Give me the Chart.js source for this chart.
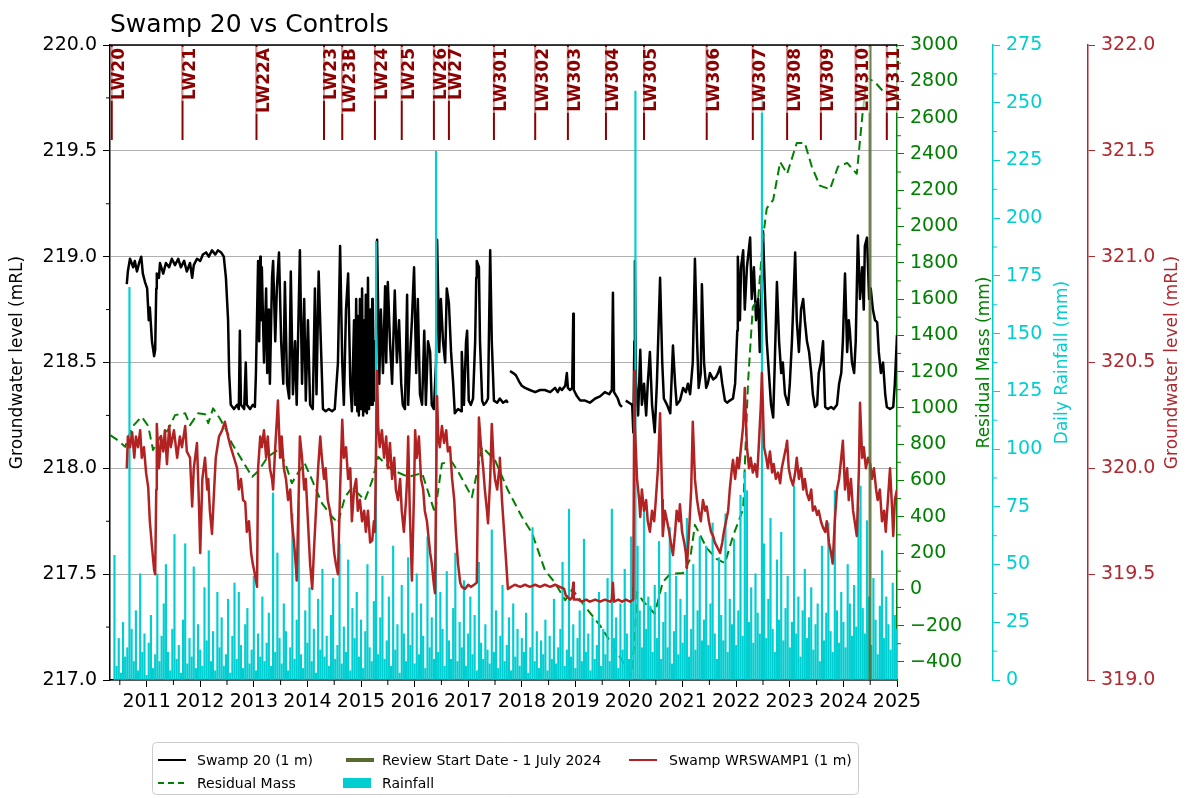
<!DOCTYPE html>
<html>
<head>
<meta charset="utf-8">
<script src="https://cdn.jsdelivr.net/npm/chart.js@4.4.1/dist/chart.umd.min.js"></script>
<style>
  html, body { margin: 0; padding: 0; background: #fff; }
</style>
</head>
<body>
<canvas id="chart" width="1189" height="798"></canvas>
<script>
// --- data (x values are decimal years) ---
const titleText = 'Swamp 20 vs Controls';

const xMin = 2010.317;
const xMax = 2025.0;
const yearTicks = [2011, 2012, 2013, 2014, 2015, 2016, 2017, 2018, 2019, 2020, 2021, 2022, 2023, 2024, 2025];
const leftTicks = [217.0, 217.5, 218.0, 218.5, 219.0, 219.5, 220.0];
const residualTicks = [-400, -200, 0, 200, 400, 600, 800, 1000, 1200, 1400, 1600, 1800, 2000, 2200, 2400, 2600, 2800, 3000];
const rainTicks = [0, 25, 50, 75, 100, 125, 150, 175, 200, 225, 250, 275];
const redTicks = [319.0, 319.5, 320.0, 320.5, 321.0, 321.5, 322.0];

// longwall markers
const lwNames = ['LW20', 'LW21', 'LW22A', 'LW23', 'LW23B', 'LW24', 'LW25', 'LW26', 'LW27', 'LW301',
  'LW302', 'LW303', 'LW304', 'LW305', 'LW306', 'LW307', 'LW308', 'LW309', 'LW310', 'LW311'];
const lwYears = [2010.35, 2011.67, 2013.05, 2014.31, 2014.65, 2015.26, 2015.76, 2016.36, 2016.64, 2017.48,
  2018.25, 2018.86, 2019.57, 2020.28, 2021.45, 2022.31, 2022.95, 2023.58, 2024.23, 2024.81];

const reviewYear = 2024.497; // 1 July 2024

// Swamp 20 (1 m) groundwater level, mRL (left axis)
const swamp20 = [
  [2010.63,218.87],[2010.65,218.93],[2010.69,218.99],[2010.75,218.95],[2010.78,218.98],[2010.82,218.93],[2010.86,218.97],[2010.90,219.00],[2010.93,218.92],[2010.97,218.88],
  [2011.01,218.85],[2011.04,218.70],[2011.06,218.76],[2011.10,218.60],[2011.14,218.53],[2011.16,218.56],[2011.18,218.85],[2011.19,218.92],[2011.23,218.90],[2011.25,218.97],
  [2011.31,218.92],[2011.36,218.97],[2011.42,218.95],[2011.47,218.99],[2011.53,218.96],[2011.59,218.99],[2011.64,218.95],[2011.70,218.98],[2011.75,218.93],[2011.81,218.97],
  [2011.85,218.90],[2011.88,218.96],[2011.94,218.99],[2012.00,218.98],[2012.05,219.01],[2012.11,219.02],[2012.16,219.00],[2012.22,219.03],[2012.28,219.01],[2012.33,219.03],
  [2012.39,219.02],[2012.44,219.00],[2012.48,218.90],[2012.52,218.70],[2012.54,218.45],[2012.57,218.30],[2012.63,218.28],[2012.69,218.30],[2012.72,218.28],[2012.74,218.65],
  [2012.76,218.30],[2012.82,218.28],[2012.85,218.50],[2012.87,218.30],[2012.93,218.28],[2012.98,218.30],[2013.02,218.29],
  [2013.04,218.45],[2013.08,218.98],[2013.10,218.60],[2013.12,219.00],[2013.13,218.70],[2013.15,218.95],[2013.19,218.50],[2013.23,218.85],[2013.25,218.45],[2013.28,218.75],
  [2013.30,218.40],[2013.34,218.90],[2013.36,218.98],[2013.40,218.60],[2013.43,218.85],[2013.47,219.02],[2013.51,218.60],[2013.55,218.40],[2013.58,218.88],[2013.62,218.40],
  [2013.66,218.33],[2013.69,218.93],[2013.73,218.35],[2013.77,218.60],[2013.80,218.30],[2013.86,219.03],[2013.90,218.40],[2013.94,218.80],[2013.97,218.32],[2014.01,218.70],
  [2014.05,218.30],[2014.10,218.28],[2014.14,218.85],[2014.17,218.35],[2014.21,218.93],[2014.25,218.60],[2014.29,218.28],[2014.34,218.27],[2014.40,218.28],[2014.46,218.27],
  [2014.51,218.28],[2014.57,218.50],[2014.61,219.05],[2014.65,218.50],[2014.68,218.30],[2014.72,218.75],[2014.76,218.92],[2014.80,218.40],[2014.83,218.27],[2014.87,218.70],
  [2014.89,218.30],[2014.91,218.80],[2014.93,218.27],[2014.94,218.72],[2014.96,218.25],[2014.98,218.80],[2015.00,218.28],[2015.02,218.85],[2015.04,218.25],[2015.06,218.70],
  [2015.07,218.27],[2015.09,218.82],[2015.11,218.26],[2015.13,218.90],[2015.15,218.28],[2015.17,218.75],[2015.19,218.30],[2015.21,218.80],[2015.22,218.30],[2015.24,218.60],
  [2015.26,218.32],[2015.30,219.08],[2015.34,218.40],[2015.37,218.75],[2015.41,218.45],[2015.45,218.86],[2015.47,218.50],[2015.50,218.88],[2015.54,218.60],[2015.58,218.40],
  [2015.63,218.84],[2015.67,218.50],[2015.71,218.70],[2015.75,218.40],[2015.78,218.30],[2015.82,218.28],[2015.86,218.82],[2015.88,218.30],[2015.91,218.50],[2015.95,218.70],
  [2015.99,218.95],[2016.03,218.45],[2016.06,218.80],[2016.10,218.35],[2016.14,218.30],[2016.18,218.65],[2016.21,218.30],[2016.25,218.60],[2016.29,218.55],[2016.32,218.30],
  [2016.36,218.28],[2016.40,218.50],[2016.42,219.08],[2016.46,218.55],[2016.49,218.80],[2016.53,218.60],[2016.57,218.50],[2016.60,218.85],[2016.64,218.78],[2016.68,218.55],
  [2016.72,218.40],[2016.75,218.26],[2016.81,218.28],[2016.87,218.27],[2016.88,218.55],[2016.92,218.30],[2016.96,218.60],[2016.98,218.65],[2017.01,218.32],[2017.05,218.30],
  [2017.09,218.33],[2017.13,218.60],[2017.15,218.90],[2017.16,218.98],[2017.20,218.95],[2017.22,218.60],[2017.26,218.32],[2017.29,218.30],[2017.33,218.31],[2017.37,218.33],
  [2017.41,219.03],[2017.44,218.60],[2017.48,218.32],[2017.54,218.31],[2017.59,218.33],[2017.65,218.31],[2017.71,218.32],[2017.74,218.31],[2017.76,null],
  [2017.78,218.46],[2017.84,218.45],[2017.89,218.44],[2017.95,218.41],[2018.00,218.39],[2018.06,218.38],[2018.15,218.37],[2018.25,218.36],[2018.34,218.37],[2018.43,218.37],
  [2018.53,218.36],[2018.62,218.38],[2018.67,218.36],[2018.71,218.38],[2018.75,218.37],[2018.81,218.39],[2018.84,218.45],[2018.86,218.38],[2018.90,218.37],[2018.94,218.38],
  [2018.96,218.73],[2018.97,218.37],[2019.03,218.34],[2019.09,218.32],[2019.18,218.32],[2019.27,218.31],[2019.37,218.33],[2019.46,218.34],[2019.55,218.36],[2019.63,218.35],
  [2019.68,218.37],[2019.70,218.83],[2019.72,218.36],[2019.79,218.33],[2019.83,218.30],[2019.87,218.29],[2019.89,null],
  [2019.94,218.32],[2020.00,218.31],[2020.06,218.30],[2020.08,218.17],[2020.10,218.60],[2020.11,218.98],[2020.13,218.40],[2020.17,218.25],[2020.21,218.56],[2020.24,218.30],
  [2020.28,218.40],[2020.32,218.25],[2020.35,218.40],[2020.39,218.55],[2020.43,218.30],[2020.48,218.17],[2020.52,218.40],[2020.58,218.90],[2020.62,218.50],[2020.65,218.33],
  [2020.71,218.30],[2020.77,218.26],[2020.82,218.58],[2020.86,218.40],[2020.89,218.30],[2020.95,218.32],[2021.01,218.38],[2021.06,218.36],[2021.10,218.40],[2021.14,218.35],
  [2021.19,218.50],[2021.23,218.99],[2021.27,218.60],[2021.30,218.38],[2021.34,218.45],[2021.36,218.87],[2021.40,218.50],[2021.44,218.38],[2021.47,218.40],[2021.51,218.45],
  [2021.57,218.42],[2021.62,218.43],[2021.66,218.45],[2021.70,218.48],[2021.74,218.40],[2021.79,218.32],[2021.83,218.31],[2021.88,218.32],[2021.94,218.33],[2021.98,218.40],
  [2022.02,218.65],[2022.03,219.00],[2022.07,218.70],[2022.09,218.95],[2022.13,219.03],[2022.16,218.75],[2022.20,218.95],[2022.26,219.09],[2022.29,218.80],[2022.33,218.95],
  [2022.37,218.70],[2022.41,218.80],[2022.44,218.55],[2022.48,218.90],[2022.50,219.12],[2022.54,218.80],[2022.57,218.60],[2022.61,218.45],[2022.65,218.30],[2022.69,218.24],
  [2022.72,218.50],[2022.76,218.88],[2022.80,218.60],[2022.84,218.45],[2022.87,218.50],[2022.91,218.35],[2022.97,218.30],[2023.00,218.40],[2023.04,218.60],[2023.10,219.02],
  [2023.13,218.70],[2023.17,218.55],[2023.21,218.75],[2023.25,218.80],[2023.28,218.70],[2023.32,218.60],[2023.36,218.55],[2023.40,218.45],[2023.43,218.35],[2023.47,218.29],
  [2023.51,218.30],[2023.54,218.45],[2023.58,218.50],[2023.62,218.60],[2023.66,218.29],[2023.71,218.28],[2023.77,218.29],[2023.82,218.28],[2023.88,218.30],[2023.92,218.40],
  [2023.96,218.45],[2023.99,218.60],[2024.03,218.92],[2024.07,218.55],[2024.10,218.70],[2024.12,218.65],[2024.16,218.50],[2024.20,218.45],[2024.23,218.60],[2024.27,219.10],
  [2024.31,218.80],[2024.35,218.95],[2024.38,218.75],[2024.40,219.05],[2024.44,219.09],[2024.48,218.80],[2024.51,218.85],[2024.55,218.75],[2024.59,218.70],[2024.63,218.69],
  [2024.66,218.55],[2024.70,218.45],[2024.74,218.50],[2024.78,218.35],[2024.81,218.29],[2024.87,218.28],[2024.93,218.29],[2024.96,218.40],[2025.00,218.63]
];

// Swamp WRSWAMP1 (1 m) groundwater level, mRL (outer right axis)
const wrswamp1 = [
  [2010.63,320.00],[2010.65,320.15],[2010.69,320.10],[2010.73,320.17],[2010.77,320.05],[2010.80,320.15],[2010.84,320.10],[2010.88,320.18],[2010.91,320.05],[2010.95,320.10],
  [2010.99,319.98],[2011.03,319.91],[2011.06,319.75],[2011.10,319.63],[2011.14,319.52],[2011.16,319.50],[2011.18,319.90],[2011.19,320.21],[2011.23,320.00],[2011.27,320.15],
  [2011.31,320.08],[2011.34,320.18],[2011.38,320.02],[2011.42,320.20],[2011.45,320.10],[2011.51,320.18],[2011.57,320.05],[2011.62,320.15],[2011.66,320.10],[2011.72,320.20],
  [2011.75,320.08],[2011.81,320.05],[2011.85,319.82],[2011.88,320.00],[2011.94,320.12],[2011.98,319.80],[2012.00,319.60],[2012.04,319.95],[2012.09,320.05],[2012.13,319.90],
  [2012.15,319.95],[2012.18,319.80],[2012.22,319.69],[2012.26,319.90],[2012.29,320.05],[2012.35,320.15],[2012.41,320.18],[2012.46,320.22],[2012.52,320.15],[2012.57,320.10],
  [2012.63,320.05],[2012.69,320.00],[2012.72,319.90],[2012.76,319.95],[2012.80,319.85],[2012.84,319.84],[2012.87,319.70],[2012.91,319.75],[2012.95,319.60],[2012.98,319.55],
  [2013.02,319.50],[2013.06,319.44],[2013.08,320.00],[2013.12,320.15],[2013.15,320.10],[2013.19,320.18],[2013.23,320.05],[2013.26,320.15],[2013.30,320.00],[2013.34,319.95],
  [2013.36,319.90],[2013.40,320.10],[2013.43,320.23],[2013.45,320.32],[2013.49,320.05],[2013.52,320.15],[2013.56,320.00],[2013.60,319.95],[2013.64,319.85],[2013.68,319.90],
  [2013.71,319.75],[2013.75,319.65],[2013.79,319.52],[2013.80,319.47],[2013.84,319.90],[2013.86,320.15],[2013.90,320.05],[2013.94,319.90],[2013.97,319.95],[2014.01,319.75],
  [2014.05,319.55],[2014.09,319.43],[2014.12,319.60],[2014.16,319.80],[2014.20,320.00],[2014.24,320.15],[2014.27,320.05],[2014.31,319.95],[2014.34,320.00],[2014.38,319.85],
  [2014.42,319.80],[2014.46,319.73],[2014.50,319.60],[2014.53,319.55],[2014.57,319.50],[2014.61,319.90],[2014.65,320.23],[2014.68,320.05],[2014.72,320.10],[2014.76,319.95],
  [2014.80,320.00],[2014.83,319.75],[2014.87,319.90],[2014.91,319.95],[2014.94,319.80],[2014.98,319.85],[2015.02,319.75],[2015.06,319.80],[2015.09,319.70],[2015.13,319.80],
  [2015.17,319.65],[2015.21,319.66],[2015.24,319.75],[2015.26,319.70],[2015.30,320.46],[2015.32,320.20],[2015.35,320.10],[2015.39,320.18],[2015.43,320.05],[2015.47,320.15],
  [2015.50,320.00],[2015.54,320.12],[2015.58,319.95],[2015.62,320.05],[2015.65,319.90],[2015.69,319.85],[2015.73,319.95],[2015.76,319.80],[2015.80,319.70],[2015.84,319.85],
  [2015.86,319.95],[2015.88,320.15],[2015.91,319.80],[2015.95,319.47],[2015.99,319.90],[2016.01,320.18],[2016.04,320.05],[2016.08,320.15],[2016.12,319.95],[2016.16,319.90],
  [2016.19,319.80],[2016.23,319.75],[2016.25,319.70],[2016.29,319.60],[2016.32,319.55],[2016.36,319.45],[2016.38,319.41],[2016.42,320.34],[2016.44,320.15],[2016.47,320.10],
  [2016.51,320.20],[2016.55,320.12],[2016.59,320.18],[2016.62,320.08],[2016.66,320.10],[2016.70,319.95],[2016.74,319.85],[2016.77,319.70],[2016.81,319.55],[2016.85,319.46],
  [2016.88,319.44],[2016.94,319.43],[2017.00,319.45],[2017.05,319.44],[2017.11,319.45],[2017.16,319.46],[2017.20,320.24],[2017.24,320.10],[2017.28,320.00],[2017.31,319.90],
  [2017.35,319.80],[2017.37,319.74],[2017.41,319.95],[2017.44,320.21],[2017.48,320.00],[2017.50,319.95],[2017.54,319.90],[2017.58,320.00],[2017.59,320.05],[2017.63,319.85],
  [2017.67,319.70],[2017.71,319.55],[2017.74,319.43],[2017.80,319.44],[2017.87,319.45],[2017.97,319.44],[2018.06,319.45],[2018.15,319.44],[2018.25,319.45],[2018.34,319.44],
  [2018.43,319.45],[2018.53,319.44],[2018.62,319.45],[2018.71,319.44],[2018.79,319.43],[2018.82,319.40],[2018.86,319.39],[2018.90,319.38],[2018.94,319.39],[2018.96,319.46],
  [2018.97,319.38],[2019.05,319.38],[2019.12,319.37],[2019.20,319.38],[2019.27,319.37],[2019.37,319.38],[2019.46,319.37],[2019.55,319.38],[2019.65,319.37],[2019.68,319.38],
  [2019.70,319.46],[2019.72,319.37],[2019.80,319.38],[2019.87,319.37],[2019.94,319.38],[2020.02,319.37],[2020.08,319.38],[2020.10,320.46],[2020.11,320.20],[2020.15,319.95],
  [2020.19,319.85],[2020.21,319.77],[2020.24,319.90],[2020.28,319.80],[2020.32,319.85],[2020.35,319.75],[2020.39,319.70],[2020.43,319.80],[2020.47,319.75],[2020.50,319.85],
  [2020.54,320.00],[2020.58,320.26],[2020.62,319.85],[2020.63,319.68],[2020.67,319.80],[2020.71,319.75],[2020.75,319.70],[2020.78,319.65],[2020.82,319.59],[2020.86,319.70],
  [2020.89,319.80],[2020.93,319.75],[2020.95,319.83],[2020.99,319.70],[2021.03,319.65],[2021.06,319.60],[2021.08,319.53],[2021.12,319.70],[2021.16,319.90],[2021.19,320.22],
  [2021.23,319.95],[2021.27,319.85],[2021.30,319.80],[2021.34,319.75],[2021.38,319.85],[2021.42,319.80],[2021.45,319.82],[2021.49,319.75],[2021.53,319.70],[2021.57,319.68],
  [2021.60,319.65],[2021.64,319.63],[2021.66,319.62],[2021.70,319.60],[2021.74,319.65],[2021.77,319.70],[2021.81,319.75],[2021.85,319.80],[2021.88,319.90],[2021.92,320.00],
  [2021.94,320.04],[2021.98,319.95],[2022.02,320.05],[2022.05,320.00],[2022.09,320.10],[2022.13,320.20],[2022.16,320.38],[2022.20,320.10],[2022.24,320.00],[2022.27,320.05],
  [2022.31,319.98],[2022.35,320.02],[2022.39,319.96],[2022.42,320.10],[2022.46,320.30],[2022.48,320.45],[2022.52,320.10],[2022.56,320.05],[2022.59,320.00],[2022.63,320.08],
  [2022.67,319.98],[2022.70,320.02],[2022.74,319.95],[2022.78,319.98],[2022.82,319.93],[2022.85,320.00],[2022.89,320.05],[2022.93,320.10],[2022.95,320.13],[2022.98,320.00],
  [2023.02,319.95],[2023.06,319.92],[2023.10,319.98],[2023.13,320.05],[2023.17,319.95],[2023.21,320.00],[2023.25,319.90],[2023.28,319.95],[2023.32,319.88],[2023.36,319.85],
  [2023.40,319.90],[2023.43,319.80],[2023.47,319.82],[2023.51,319.78],[2023.54,319.80],[2023.58,319.75],[2023.62,319.72],[2023.66,319.70],[2023.69,319.75],[2023.73,319.65],
  [2023.77,319.60],[2023.80,319.55],[2023.84,319.75],[2023.88,319.90],[2023.92,319.95],[2023.96,320.05],[2023.99,320.13],[2024.03,319.90],[2024.07,320.00],[2024.10,319.85],
  [2024.14,319.95],[2024.18,319.80],[2024.21,319.75],[2024.25,319.68],[2024.29,320.00],[2024.31,320.31],[2024.35,320.05],[2024.38,320.10],[2024.42,320.00],[2024.46,320.05],
  [2024.50,320.02],[2024.53,319.95],[2024.57,320.00],[2024.61,319.90],[2024.64,319.85],[2024.68,319.90],[2024.72,319.75],[2024.76,319.80],[2024.79,319.70],[2024.83,319.85],
  [2024.87,320.00],[2024.91,319.80],[2024.93,319.68],[2024.96,319.85],[2025.00,319.90]
];

// residual mass, mm (first right axis)
const residualMass = [
  [2010.32,850],[2010.47,820],[2010.60,785],[2010.73,895],[2010.84,930],[2010.91,950],[2011.03,900],[2011.12,768],[2011.25,840],[2011.40,878],
  [2011.53,960],[2011.72,970],[2011.81,905],[2011.96,970],[2012.09,965],[2012.15,915],[2012.24,997],[2012.37,940],[2012.48,880],[2012.59,805],
  [2012.78,712],[2012.97,620],[2013.08,650],[2013.26,730],[2013.45,768],[2013.58,700],[2013.71,585],[2013.82,640],[2013.95,694],[2014.09,600],
  [2014.27,475],[2014.46,400],[2014.57,365],[2014.70,508],[2014.83,560],[2014.94,530],[2015.07,490],[2015.21,600],[2015.32,730],[2015.58,658],
  [2015.88,620],[2016.14,640],[2016.38,420],[2016.51,694],[2016.70,700],[2016.81,650],[2017.07,508],[2017.26,785],[2017.50,712],[2017.74,547],
  [2018.00,400],[2018.19,310],[2018.43,107],[2018.62,35],[2018.81,-60],[2018.94,0],[2019.18,-95],[2019.46,-200],[2019.74,-330],[2019.93,-420],
  [2020.04,-470],[2020.10,-300],[2020.15,-15],[2020.26,-65],[2020.48,-135],[2020.63,40],[2020.77,85],[2021.01,90],[2021.14,166],[2021.23,355],
  [2021.45,227],[2021.64,166],[2021.79,144],[2021.94,293],[2022.13,442],[2022.22,1137],[2022.31,1556],[2022.41,1600],[2022.50,1937],[2022.57,2100],
  [2022.69,2146],[2022.82,2355],[2022.95,2290],[2023.13,2460],[2023.28,2460],[2023.41,2330],[2023.56,2225],[2023.75,2205],[2023.90,2330],[2024.07,2350],
  [2024.25,2290],[2024.36,2630],[2024.44,2820],[2024.59,2795],[2024.74,2745],[2025.00,2720]
];

// daily rainfall, mm (second right axis), one bar every 0.04 year from rainStart
const rainStart = 2010.40;
const rainStep = 0.04;
const rainfall = [
  54, 6, 18, 3, 25, 10, 14, 170, 22, 8, 30, 4, 46, 12, 20, 2, 16, 28, 5, 11, 46, 8, 19, 33, 50,
  12, 4, 22, 63, 9, 15, 3, 26, 59, 7, 18, 10, 49, 5, 24, 13, 6, 40, 17, 56, 8, 21, 4, 38, 14,
  27, 6, 11, 35, 3, 19, 42, 9, 38, 15, 5, 24, 31, 7, 13, 45, 4, 20, 10, 36, 8, 16, 29, 6, 81,
  12, 55, 18, 7, 33, 21, 4, 14, 72, 9, 26, 77, 11, 5, 30, 16, 40, 8, 22, 3, 35, 13, 48, 10, 19,
  6, 28, 44, 9, 15, 59, 7, 23, 12, 52, 4, 31, 18, 38, 10, 26, 5, 21, 50, 14, 8, 34, 190, 11, 27,
  45, 9, 17, 36, 6, 58, 13, 24, 3, 41, 20, 8, 53, 15, 29, 7, 46, 11, 33, 19, 5, 62, 14, 27, 9,
  229, 12, 38, 22, 6, 47, 17, 9, 31, 55, 8, 25, 14, 43, 6, 20, 36, 11, 28, 4, 51, 16, 9, 24, 13,
  7, 65, 12, 30, 5, 19, 41, 8, 15, 27, 4, 33, 10, 22, 6, 18, 12, 29, 3, 14, 66, 8, 21, 5, 17,
  11, 26, 4, 19, 9, 35, 7, 14, 22, 51, 6, 13, 74, 10, 24, 5, 18, 30, 8, 61, 12, 20, 4, 27, 9,
  15, 38, 6, 22, 11, 44, 8, 74, 18, 27, 5, 33, 13, 48, 20, 9, 62, 40, 255, 58, 30, 14, 75, 22, 36,
  32, 12, 41, 18, 60, 9, 25, 38, 14, 66, 7, 21, 45, 11, 35, 16, 28, 70, 10, 22, 50, 13, 30, 62, 17,
  26, 58, 15, 33, 68, 20, 9, 53, 28, 17, 72, 12, 35, 24, 61, 15, 30, 80, 19, 90, 82, 25, 40, 16, 46,
  29, 20, 255, 59, 18, 35, 70, 22, 12, 52, 26, 64, 17, 31, 45, 14, 25, 84, 20, 36, 10, 30, 48, 18, 27,
  40, 13, 24, 33, 8, 58, 17, 29, 68, 21, 12, 82, 30, 16, 38, 25, 14, 50, 33, 19, 41, 23, 75, 84, 31,
  20, 69, 36, 15, 44, 26, 11, 32, 56, 18, 36, 24, 13, 42, 28, 22
];

// --- colours and fonts ---
const FONT = '"DejaVu Sans", sans-serif';
const swampBlack = '#000000';
const resGreen = '#008000';
const rainCyan = '#00ced1';
const wrRed = '#b22222';
const redAxis = '#b0282f';
const lwRed = '#8b0000';
const olive = '#556b2f';

const toPoints = rows => rows.map(([x, y]) => ({ x, y }));
const fixedTicks = list => scale => { scale.ticks = list.map(v => ({ value: v })); };
const tickFont = { family: FONT, size: 19 };

// draws the extra bits matplotlib had: longwall markers, minor ticks, titles, legend
const decor = {
  id: 'decor',
  afterDatasetsDraw(chart) {
    const { ctx, chartArea: a, scales: { x } } = chart;
    ctx.save();
    ctx.font = 'bold 17px ' + FONT;
    lwNames.forEach((name, i) => {
      const px = x.getPixelForValue(lwYears[i]);
      ctx.strokeStyle = lwRed;
      ctx.lineWidth = 2;
      ctx.beginPath();
      ctx.moveTo(px, a.top);
      ctx.lineTo(px, a.top + 95);
      ctx.stroke();
      // rotated label with a faint white box behind it
      ctx.save();
      ctx.translate(px + 7, a.top + 3);
      ctx.rotate(-Math.PI / 2);
      const w = ctx.measureText(name).width;
      ctx.fillStyle = 'rgba(255,255,255,0.6)';
      ctx.fillRect(-w - 1, -8, w + 2, 15);
      ctx.fillStyle = lwRed;
      ctx.textAlign = 'right';
      ctx.textBaseline = 'middle';
      ctx.fillText(name, 0, 1);
      ctx.restore();
    });
    ctx.restore();
  },
  afterDraw(chart) {
    const { ctx, chartArea: a, scales } = chart;
    ctx.save();

    // top spine
    ctx.strokeStyle = '#000';
    ctx.lineWidth = 1.5;
    ctx.beginPath();
    ctx.moveTo(a.left, a.top);
    ctx.lineTo(a.right, a.top);
    ctx.stroke();

    // minor ticks halfway between the major ones
    const mids = list => list.slice(1).map((v, i) => (v + list[i]) / 2);
    ctx.lineWidth = 1;
    ctx.strokeStyle = '#000';
    mids(leftTicks).forEach(v => {
      const py = scales.y.getPixelForValue(v);
      ctx.beginPath(); ctx.moveTo(a.left - 4, py); ctx.lineTo(a.left, py); ctx.stroke();
    });
    yearTicks.map(v => v - 0.5).forEach(v => {
      const px = scales.x.getPixelForValue(v);
      ctx.beginPath(); ctx.moveTo(px, a.bottom); ctx.lineTo(px, a.bottom + 5); ctx.stroke();
    });
    ctx.strokeStyle = resGreen;
    mids(residualTicks).forEach(v => {
      const py = scales.yRes.getPixelForValue(v);
      ctx.beginPath(); ctx.moveTo(scales.yRes.left, py); ctx.lineTo(scales.yRes.left + 4, py); ctx.stroke();
    });
    ctx.strokeStyle = rainCyan;
    mids(rainTicks).forEach(v => {
      const py = scales.yRain.getPixelForValue(v);
      ctx.beginPath(); ctx.moveTo(scales.yRain.left, py); ctx.lineTo(scales.yRain.left + 4, py); ctx.stroke();
    });

    // chart title
    ctx.fillStyle = '#000';
    ctx.font = '25px ' + FONT;
    ctx.textAlign = 'left';
    ctx.textBaseline = 'alphabetic';
    ctx.fillText(titleText, a.left, 32);

    // axis titles, all reading bottom to top
    const midY = (a.top + a.bottom) / 2;
    const vText = (text, px, color) => {
      ctx.save();
      ctx.translate(px, midY);
      ctx.rotate(-Math.PI / 2);
      ctx.fillStyle = color;
      ctx.font = '17px ' + FONT;
      ctx.textAlign = 'center';
      ctx.textBaseline = 'middle';
      ctx.fillText(text, 0, 0);
      ctx.restore();
    };
    vText('Groundwater level (mRL)', 18, '#000');
    vText('Residual Mass (mm)', scales.yRes.left + 88, resGreen);
    vText('Daily Rainfall (mm)', scales.yRain.left + 70, rainCyan);
    vText('Groundwater level (mRL)', scales.yRed.left + 85, redAxis);

    // legend box
    ctx.fillStyle = 'rgba(255,255,255,0.9)';
    ctx.strokeStyle = '#cccccc';
    ctx.lineWidth = 1;
    ctx.beginPath();
    ctx.roundRect(152.5, 742.5, 706, 52, 4);
    ctx.fill();
    ctx.stroke();

    const rows = [760, 783];
    const items = [
      { label: 'Swamp 20 (1 m)', kind: 'line', color: swampBlack, width: 2, hx: 158, tx: 197, row: 0 },
      { label: 'Review Start Date - 1 July 2024', kind: 'line', color: olive, width: 4, hx: 346, tx: 382, row: 0 },
      { label: 'Swamp WRSWAMP1 (1 m)', kind: 'line', color: wrRed, width: 2, hx: 629, tx: 669, row: 0 },
      { label: 'Residual Mass', kind: 'dash', color: resGreen, width: 2, hx: 158, tx: 197, row: 1 },
      { label: 'Rainfall', kind: 'box', color: rainCyan, hx: 343, tx: 382, row: 1 }
    ];
    ctx.font = '14px ' + FONT;
    ctx.textBaseline = 'middle';
    items.forEach(it => {
      const cy = rows[it.row];
      if (it.kind === 'box') {
        ctx.fillStyle = it.color;
        ctx.fillRect(it.hx, cy - 5, 28, 10);
      } else {
        ctx.strokeStyle = it.color;
        ctx.lineWidth = it.width;
        ctx.setLineDash(it.kind === 'dash' ? [6, 4] : []);
        ctx.beginPath();
        ctx.moveTo(it.hx, cy);
        ctx.lineTo(it.hx + 28, cy);
        ctx.stroke();
        ctx.setLineDash([]);
      }
      ctx.fillStyle = '#000';
      ctx.fillText(it.label, it.tx, cy + 1);
    });
    ctx.restore();
  }
};

new Chart(document.getElementById('chart'), {
  type: 'line',
  data: {
    datasets: [
      {
        label: 'Swamp 20 (1 m)',
        data: toPoints(swamp20),
        yAxisID: 'y',
        borderColor: swampBlack,
        borderWidth: 2.5,
        order: 3
      },
      {
        label: 'Residual Mass',
        data: toPoints(residualMass),
        yAxisID: 'yRes',
        borderColor: resGreen,
        borderDash: [9, 5],
        borderWidth: 2,
        order: 2
      },
      {
        type: 'bar',
        label: 'Rainfall',
        data: rainfall.map((v, i) => ({ x: rainStart + i * rainStep, y: v })),
        yAxisID: 'yRain',
        backgroundColor: rainCyan,
        borderWidth: 0,
        barThickness: 1.5,
        order: 1
      },
      {
        label: 'Swamp WRSWAMP1 (1 m)',
        data: toPoints(wrswamp1),
        yAxisID: 'yRed',
        borderColor: wrRed,
        borderWidth: 2.5,
        order: 0
      },
      {
        label: 'Review Start Date - 1 July 2024',
        data: [{ x: reviewYear, y: -500 }, { x: reviewYear, y: 3000 }],
        yAxisID: 'yRes',
        borderColor: 'rgba(85,107,47,0.85)',
        borderWidth: 3,
        order: -1
      }
    ]
  },
  options: {
    responsive: false,
    animation: false,
    devicePixelRatio: 1,
    layout: { padding: { top: 45 } },
    elements: {
      point: { radius: 0 },
      line: { tension: 0, borderJoinStyle: 'round' }
    },
    plugins: {
      legend: { display: false },
      tooltip: { enabled: false }
    },
    scales: {
      x: {
        type: 'linear',
        position: 'bottom',
        min: xMin,
        max: xMax,
        bounds: 'data',
        offset: false,
        afterBuildTicks: fixedTicks(yearTicks),
        afterFit: s => { s.height = 118; },
        ticks: { autoSkip: false, maxRotation: 0, padding: 4, color: '#000', font: tickFont, callback: v => String(v) },
        grid: { drawOnChartArea: false, tickLength: 7, tickColor: '#000', offset: false },
        border: { color: '#000', width: 1.5 }
      },
      y: {
        type: 'linear',
        position: 'left',
        min: 217,
        max: 220,
        bounds: 'data',
        afterBuildTicks: fixedTicks(leftTicks),
        afterFit: s => { s.width = 110; },
        ticks: { color: '#000', padding: 6, font: tickFont, callback: v => v.toFixed(1) },
        grid: { color: '#b0b0b0', lineWidth: 1, tickLength: 7, tickColor: '#000' },
        border: { color: '#000', width: 1.5 }
      },
      yRes: {
        type: 'linear',
        position: 'right',
        min: -500,
        max: 3000,
        bounds: 'data',
        afterBuildTicks: fixedTicks(residualTicks),
        afterFit: s => { s.width = 96; },
        ticks: { color: resGreen, padding: 6, font: tickFont, callback: v => v < 0 ? '\u2212' + (-v) : String(v) },
        grid: { drawOnChartArea: false, tickLength: 7, tickColor: resGreen },
        border: { color: resGreen, width: 1.5 }
      },
      yRain: {
        type: 'linear',
        position: 'right',
        min: 0,
        max: 275,
        bounds: 'data',
        afterBuildTicks: fixedTicks(rainTicks),
        afterFit: s => { s.width = 95; },
        ticks: { color: rainCyan, padding: 6, font: tickFont, callback: v => String(v) },
        grid: { drawOnChartArea: false, tickLength: 7, tickColor: rainCyan },
        border: { color: rainCyan, width: 1.5 }
      },
      yRed: {
        type: 'linear',
        position: 'right',
        min: 319,
        max: 322,
        bounds: 'data',
        afterBuildTicks: fixedTicks(redTicks),
        afterFit: s => { s.width = 101; },
        ticks: { color: redAxis, padding: 6, font: tickFont, callback: v => v.toFixed(1) },
        grid: { drawOnChartArea: false, tickLength: 7, tickColor: redAxis },
        border: { color: redAxis, width: 1.5 }
      }
    }
  },
  plugins: [decor]
});
</script>
</body>
</html>
